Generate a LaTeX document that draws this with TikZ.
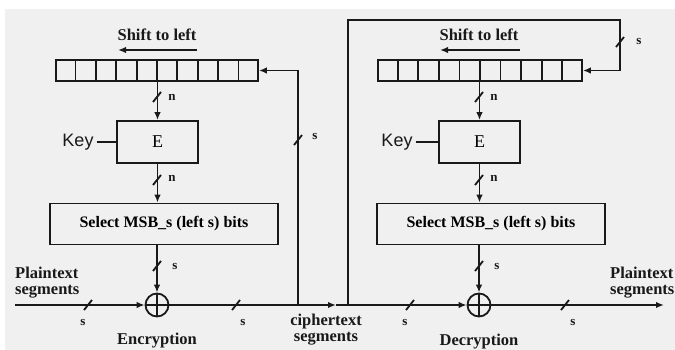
\documentclass[tikz,border=0pt]{standalone}
\usepackage{fontspec}
\setmainfont{Liberation Serif}
\newfontfamily\keyfont{Liberation Sans}
\usetikzlibrary{arrows.meta,calc}

\definecolor{bggray}{RGB}{240,240,240}
\definecolor{ink}{RGB}{25,25,25}

\tikzset{
  lbl/.style={font=\bfseries\fontsize{16.5}{16}\selectfont, text=ink, inner sep=0pt},
  small/.style={font=\bfseries\fontsize{13}{13}\selectfont, text=ink, inner sep=0pt},
  keylbl/.style={font=\keyfont\fontsize{18}{18}\selectfont, text=ink, inner sep=0pt},
  blk/.style={draw=ink, line width=1.8pt, fill=bggray, inner sep=0pt},
  regbox/.style={blk, minimum width=202pt, minimum height=21pt},
  ebox/.style={blk, minimum width=81pt, minimum height=42pt, font=\fontsize{18}{18}\selectfont},
  selbox/.style={blk, minimum width=228pt, minimum height=41pt, font=\bfseries\fontsize{16}{16}\selectfont},
  xorop/.style={draw=ink, line width=1.8pt, circle, minimum size=23pt, inner sep=0pt,
    path picture={\draw[ink, line width=1.8pt]
      (path picture bounding box.north) -- (path picture bounding box.south)
      (path picture bounding box.west) -- (path picture bounding box.east);}},
  wire/.style={draw=ink, line width=1.8pt},
  conn/.style={wire, -{Latex[length=8pt,width=6.5pt]}},
  cell/.style={draw=ink, line width=1.8pt},
  buswidth/.pic={\draw[ink, line width=1.8pt] (-4,5) -- (4,-5);}
}

\begin{document}
\begin{tikzpicture}[x=1pt, y=-1pt]
\useasboundingbox (0,0) rectangle (675,350);
\fill[white] (0,0) rectangle (675,350);
\fill[bggray] (5,9) rectangle (675,350);

% ---------- encryption side ----------
\node[lbl] (shiftL) at (157,35) {Shift to left};
\coordinate (shLa) at (197,50);
\coordinate (shLb) at (118,50);
\draw[conn] (shLa) -- (shLb);

\node[regbox] (regL) at (157,70.5) {};
\foreach \i in {1,...,9}
  \draw[cell] ($(regL.north west)!\i/10!(regL.north east)$) -- ($(regL.south west)!\i/10!(regL.south east)$);

\node[ebox] (EL) at (157.5,142) {E};
\node[keylbl] (keyL) at (78,142) {Key};
\draw[wire] (keyL.east) ++(3,0) -- (EL.west);

\node[selbox] (selL) at (164,224) {Select MSB\_s (left s) bits};
\node[xorop] (xorL) at (157,305) {};

\draw[conn] (regL.south -| EL.north) -- (EL.north);
\pic at (157,97) {buswidth};
\node[small] (nL1) at (172,97) {n};

\draw[conn] (EL.south) -- (EL.south |- selL.north);
\pic at (157,180) {buswidth};
\node[small] (nL2) at (172,178) {n};

\draw[conn] (xorL.north |- selL.south) -- (xorL.north);
\pic at (157,266) {buswidth};
\node[small] (sL1) at (175,266) {s};

\node[lbl, align=left, anchor=west] (ptL) at (15,283) {Plaintext\\segments};
\coordinate (inL) at (15,305);
\draw[conn] (inL) -- (xorL.west);
\pic at (88,305) {buswidth};
\node[small] (sL2) at (83,322) {s};

\node[lbl] (encr) at (157,341) {Encryption};

% ---------- ciphertext path ----------
\coordinate (fbL) at (298,305);
\coordinate (fbR) at (348,305);
\coordinate (mid) at (336,305);
\draw[conn] (xorL.east) -- (mid);
\pic at (236,305) {buswidth};
\node[small] (sC1) at (243,322) {s};

\draw[conn] (fbL) |- (regL.east);
\pic at (298,140) {buswidth};
\node[small] (sC2) at (315,137) {s};

\node[lbl, align=center] (ciph) at (326,330) {ciphertext\\segments};

% ---------- decryption side ----------
\node[lbl] (shiftR) at (479,35) {Shift to left};
\coordinate (shRa) at (520,50);
\coordinate (shRb) at (440,50);
\draw[conn] (shRa) -- (shRb);

\node[regbox, minimum width=204pt] (regR) at (480,70.5) {};
\foreach \i in {1,...,9}
  \draw[cell] ($(regR.north west)!\i/10!(regR.north east)$) -- ($(regR.south west)!\i/10!(regR.south east)$);

\node[ebox] (ER) at (479.5,142) {E};
\node[keylbl] (keyR) at (397,142) {Key};
\draw[wire] (keyR.east) ++(3,0) -- (ER.west);

\node[selbox] (selR) at (491,224) {Select MSB\_s (left s) bits};
\node[xorop] (xorR) at (479,305) {};

\draw[conn] (regR.south -| ER.north) -- (ER.north);
\pic at (479,97) {buswidth};
\node[small] (nR1) at (494,97) {n};

\draw[conn] (ER.south) -- (ER.south |- selR.north);
\pic at (479,180) {buswidth};
\node[small] (nR2) at (494,178) {n};

\draw[conn] (xorR.north |- selR.south) -- (xorR.north);
\pic at (479,266) {buswidth};
\node[small] (sR1) at (497,266) {s};

\draw[conn] (mid) -- (xorR.west);
\pic at (410,305) {buswidth};
\node[small] (sR2) at (405,322) {s};

\coordinate (loopTop) at (348,20);
\coordinate (loopCorner) at (620,20);
\draw[conn] (fbR) -- (loopTop) -- (loopCorner) |- (regR.east);
\pic at (620,42) {buswidth};
\node[small] (sR3) at (639,42) {s};

\coordinate (outR) at (664,305);
\draw[conn] (xorR.east) -- (outR);
\pic at (565,305) {buswidth};
\node[small] (sR4) at (573,322) {s};

\node[lbl, align=left, anchor=west] (ptR) at (610,283) {Plaintext\\segments};
\node[lbl] (decr) at (479,342) {Decryption};
\end{tikzpicture}
\end{document}
